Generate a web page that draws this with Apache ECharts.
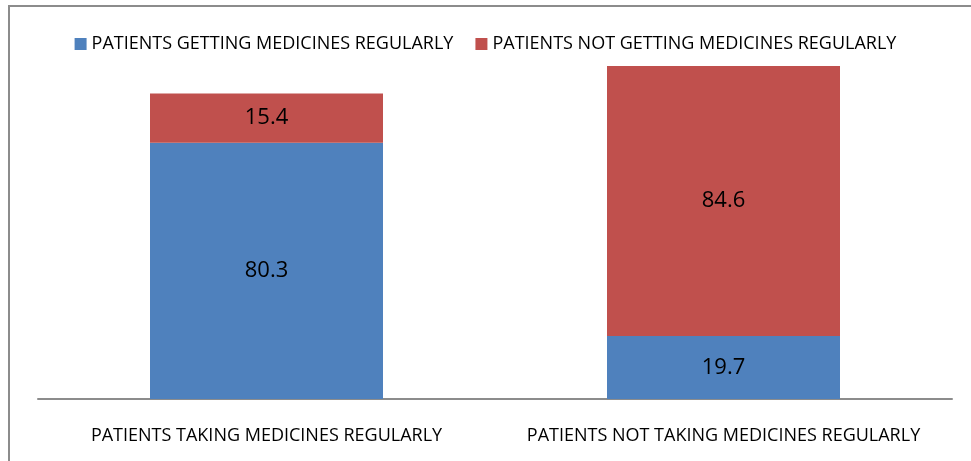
<!DOCTYPE html>
<html>
<head>
<meta charset="utf-8">
<script src="https://cdn.jsdelivr.net/npm/echarts@6/dist/echarts.min.js"></script>
<style>
  html, body { margin: 0; padding: 0; background: #fff; }
  #frame { position: absolute; left: 8px; top: 5px; width: 1000px; height: 500px;
    border-left: 2px solid #8c8c8c; border-top: 2px solid #8c8c8c; }
  #chart { position: absolute; left: 0; top: 0; width: 971px; height: 461px; }
</style>
</head>
<body>
<div id="frame"></div>
<div id="chart"></div>
<script>
var categories = ['PATIENTS TAKING MEDICINES REGULARLY', 'PATIENTS NOT TAKING MEDICINES REGULARLY'];
var gettingValues = [80.3, 19.7];
var notGettingValues = [15.4, 84.6];

var chart = echarts.init(document.getElementById('chart'));
var font = 'Open Sans';
var option = {
  animation: false,
  textStyle: { fontFamily: font },
  legend: {
    top: 30,
    left: 'center',
    itemWidth: 12,
    itemHeight: 12,
    itemGap: 22,
    icon: 'rect',
    textStyle: { fontSize: 18, color: '#000', fontFamily: font },
    data: ['PATIENTS GETTING MEDICINES REGULARLY', 'PATIENTS NOT GETTING MEDICINES REGULARLY']
  },
  grid: { left: 38, right: 19, top: 16, bottom: 62 },
  xAxis: {
    type: 'category',
    data: categories,
    axisLine: { lineStyle: { color: '#8c8c8c', width: 2 } },
    axisTick: { show: false },
    axisLabel: { color: '#000', fontSize: 18, margin: 28, interval: 0, hideOverlap: false, fontFamily: font }
  },
  yAxis: {
    type: 'value',
    min: 0,
    max: 120,
    show: false,
    splitLine: { show: false }
  },
  series: [
    {
      name: 'PATIENTS GETTING MEDICINES REGULARLY',
      type: 'bar',
      stack: 'total',
      barWidth: 233,
      data: gettingValues,
      itemStyle: { color: '#4f81bd' },
      label: { show: true, position: 'inside', color: '#000', fontSize: 22, fontFamily: font }
    },
    {
      name: 'PATIENTS NOT GETTING MEDICINES REGULARLY',
      type: 'bar',
      stack: 'total',
      barWidth: 233,
      data: notGettingValues,
      itemStyle: { color: '#c0504d' },
      label: { show: true, position: 'inside', color: '#000', fontSize: 22, fontFamily: font }
    }
  ]
};
chart.setOption(option);
</script>
</body>
</html>
